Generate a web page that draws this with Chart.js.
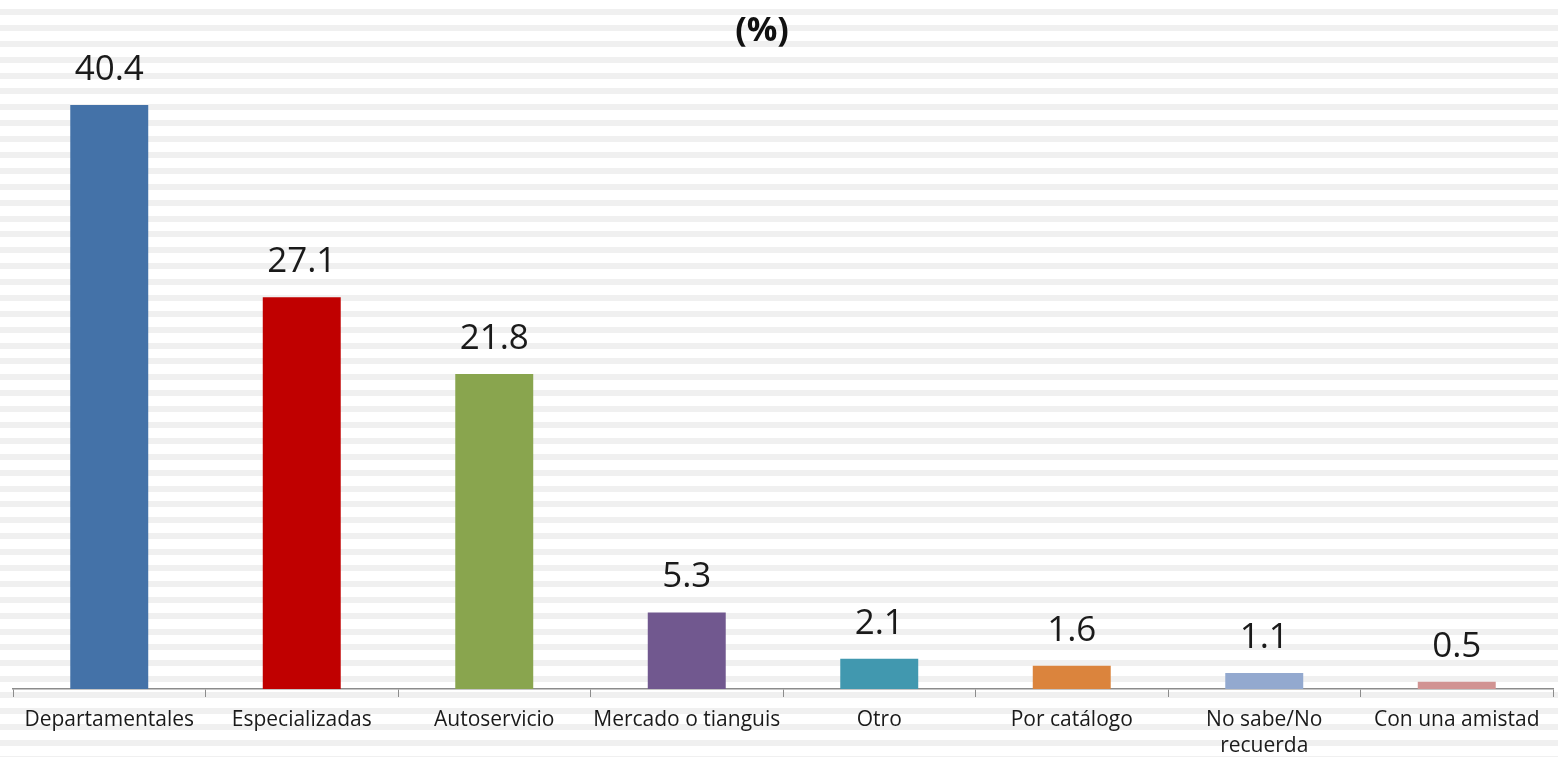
<!DOCTYPE html>
<html>
<head>
<meta charset="utf-8">
<script src="https://cdn.jsdelivr.net/npm/chart.js@4"></script>
<style>
html,body{margin:0;padding:0;background:#fff;overflow:hidden}
canvas{display:block}
</style>
</head>
<body>
<canvas id="c" width="1558" height="757"></canvas>
<script>
const categories = ["Departamentales", "Especializadas", "Autoservicio", "Mercado o tianguis", "Otro", "Por catálogo", ["No sabe/No", "recuerda"], "Con una amistad"];
const values = [40.4, 27.1, 21.8, 5.3, 2.1, 1.6, 1.1, 0.5];
const barColors = ["#4472A8", "#C00000", "#89A54E", "#71588F", "#4198AF", "#DB843D", "#93A9CF", "#D19392"];
const titleText = "(%)";

const stripes = {
  id: 'stripes',
  beforeDraw(chart) {
    const ctx = chart.ctx;
    ctx.save();
    ctx.fillStyle = '#ffffff';
    ctx.fillRect(0, 0, chart.width, chart.height);
    ctx.fillStyle = '#f0f0f0';
    const period = 15.886;
    for (let y = 9; y < chart.height; y += period) {
      ctx.fillRect(0, Math.round(y), chart.width, 6);
    }
    ctx.restore();
  }
};

const valueLabels = {
  id: 'valueLabels',
  afterDatasetsDraw(chart) {
    const ctx = chart.ctx;
    const meta = chart.getDatasetMeta(0);
    ctx.save();
    ctx.fillStyle = '#1a1a1a';
    ctx.font = '35px "Open Sans"';
    ctx.textAlign = 'center';
    ctx.textBaseline = 'middle';
    meta.data.forEach((bar, i) => {
      ctx.fillText(values[i].toFixed(1), bar.x, bar.y - 35);
    });
    ctx.font = 'bold 34px "Open Sans"';
    ctx.fillStyle = '#111';
    ctx.fillText(titleText, 762, 31);
    ctx.restore();
  }
};

new Chart(document.getElementById('c'), {
  type: 'bar',
  data: {
    labels: categories,
    datasets: [{
      data: values,
      backgroundColor: barColors,
      borderWidth: 0,
      barPercentage: 0.405,
      categoryPercentage: 1.0
    }]
  },
  options: {
    responsive: false,
    animation: false,
    devicePixelRatio: 1,
    layout: { padding: { left: 13, right: 5, top: 53, bottom: -12.5 } },
    plugins: {
      legend: { display: false },
      tooltip: { enabled: false },
      title: { display: false }
    },
    scales: {
      y: { display: false, min: 0, max: 44 },
      x: {
        grid: { display: true, drawOnChartArea: false, drawTicks: true, tickLength: 8, color: '#8c8c8c', offset: true },
        border: { display: true, color: '#8c8c8c', width: 1.5 },
        ticks: {
          color: '#1a1a1a',
          font: { family: '"Open Sans"', size: 21, lineHeight: 1.25 },
          padding: 10,
          maxRotation: 0,
          autoSkip: false
        }
      }
    }
  },
  plugins: [stripes, valueLabels]
});
</script>
</body>
</html>
